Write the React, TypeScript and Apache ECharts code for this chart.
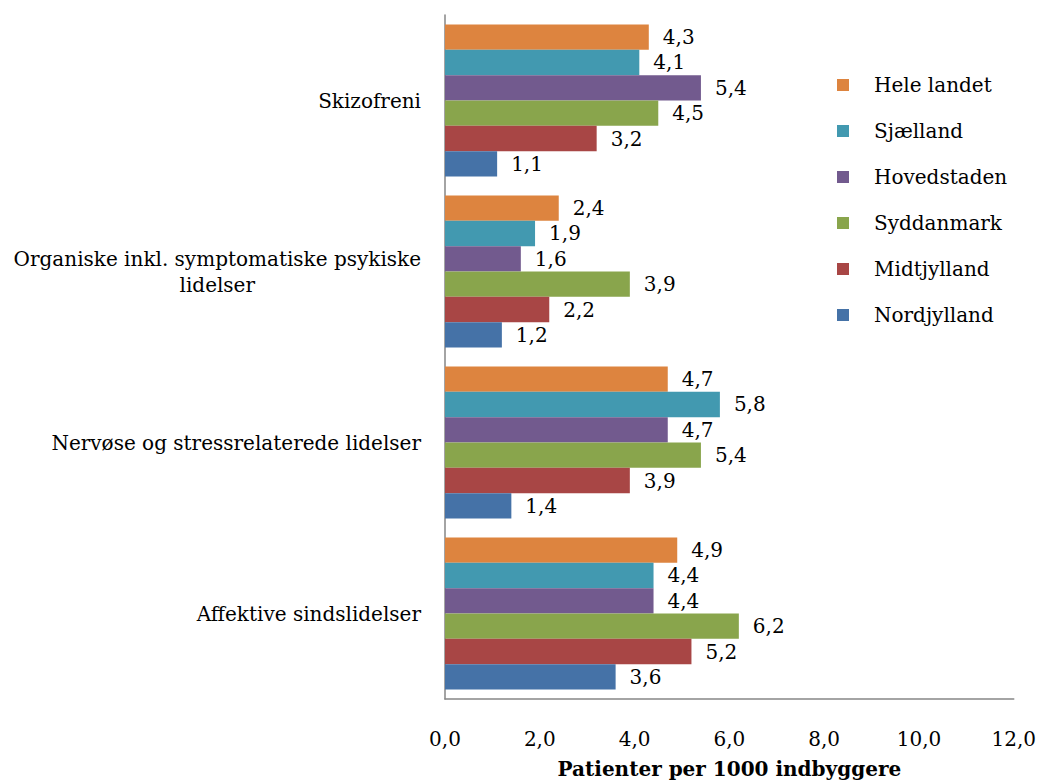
import React, { useEffect, useRef } from "react";
import * as echarts from "echarts";

const categories = [
  "Affektive sindslidelser",
  "Nervøse og stressrelaterede lidelser",
  "Organiske inkl. symptomatiske psykiske\nlidelser",
  "Skizofreni",
];

// values ordered like categories (bottom to top)
const heleLandet = [4.9, 4.7, 2.4, 4.3];
const sjaelland = [4.4, 5.8, 1.9, 4.1];
const hovedstaden = [4.4, 4.7, 1.6, 5.4];
const syddanmark = [6.2, 5.4, 3.9, 4.5];
const midtjylland = [5.2, 3.9, 2.2, 3.2];
const nordjylland = [3.6, 1.4, 1.2, 1.1];

const legendOrder = ["Hele landet", "Sjælland", "Hovedstaden", "Syddanmark", "Midtjylland", "Nordjylland"];

const FONT = "DejaVu Serif";
const FS = 20;

export default function App() {
  const ref = useRef<HTMLDivElement>(null);
  useEffect(() => {
    if (!ref.current) return;
    const chart = echarts.init(ref.current, undefined, { renderer: "svg" });
    const mk = (name: string, data: number[], color: string) => ({
      name,
      type: "bar",
      data,
      barGap: "0%",
      barCategoryGap: "11%",
      itemStyle: { color },
      label: {
        show: true,
        position: "right",
        distance: 14,
        formatter: (p: any) => p.value.toFixed(1).replace(".", ","),
        color: "#000",
        fontFamily: FONT,
        fontSize: FS,
      },
    });
    chart.setOption({
      animation: false,
      backgroundColor: "#fff",
      textStyle: { fontFamily: FONT },
      grid: { left: 445, width: 569, top: 15, height: 686, containLabel: false },
      legend: {
        data: legendOrder,
        orient: "vertical",
        left: 837,
        top: 74,
        padding: 0,
        itemWidth: 12,
        itemHeight: 12,
        itemGap: 24,
        icon: "rect",
        textStyle: {
          fontFamily: FONT,
          fontSize: FS,
          color: "#000",
          lineHeight: 22,
          padding: [0, 0, 0, 20],
        },
      },
      xAxis: {
        type: "value",
        min: 0,
        max: 12,
        interval: 2,
        name: "Patienter per 1000 indbyggere",
        nameLocation: "middle",
        nameGap: 60,
        nameTextStyle: { fontFamily: FONT, fontSize: FS, fontWeight: "bold", color: "#000" },
        axisLine: { show: true, lineStyle: { color: "#868686", width: 1.5 } },
        axisTick: { show: false },
        splitLine: { show: false },
        axisLabel: {
          margin: 30,
          fontFamily: FONT,
          fontSize: FS,
          color: "#000",
          formatter: (v: number) => v.toFixed(1).replace(".", ","),
        },
      },
      yAxis: {
        type: "category",
        data: categories,
        axisLine: { show: true, lineStyle: { color: "#868686", width: 1.5 } },
        axisTick: { show: false },
        axisLabel: {
          margin: 24,
          fontFamily: FONT,
          fontSize: FS,
          color: "#000",
          align: "right",
          formatter: (v: string) =>
            v
              .split("\n")
              .map((l) => `{c|${l}}`)
              .join("\n"),
          rich: {
            c: { align: "center", fontFamily: FONT, fontSize: FS, color: "#000", lineHeight: 26 },
          },
        },
      },
      series: [
        mk("Hele landet", heleLandet, "#DD843F"),
        mk("Sjælland", sjaelland, "#4299B0"),
        mk("Hovedstaden", hovedstaden, "#725A8E"),
        mk("Syddanmark", syddanmark, "#89A54C"),
        mk("Midtjylland", midtjylland, "#A84645"),
        mk("Nordjylland", nordjylland, "#4572A7"),
      ],
    });
    return () => chart.dispose();
  }, []);
  return (
    <div
      ref={ref}
      style={{ position: "fixed", left: 0, top: 0, width: 1039, height: 784 }}
    />
  );
}
